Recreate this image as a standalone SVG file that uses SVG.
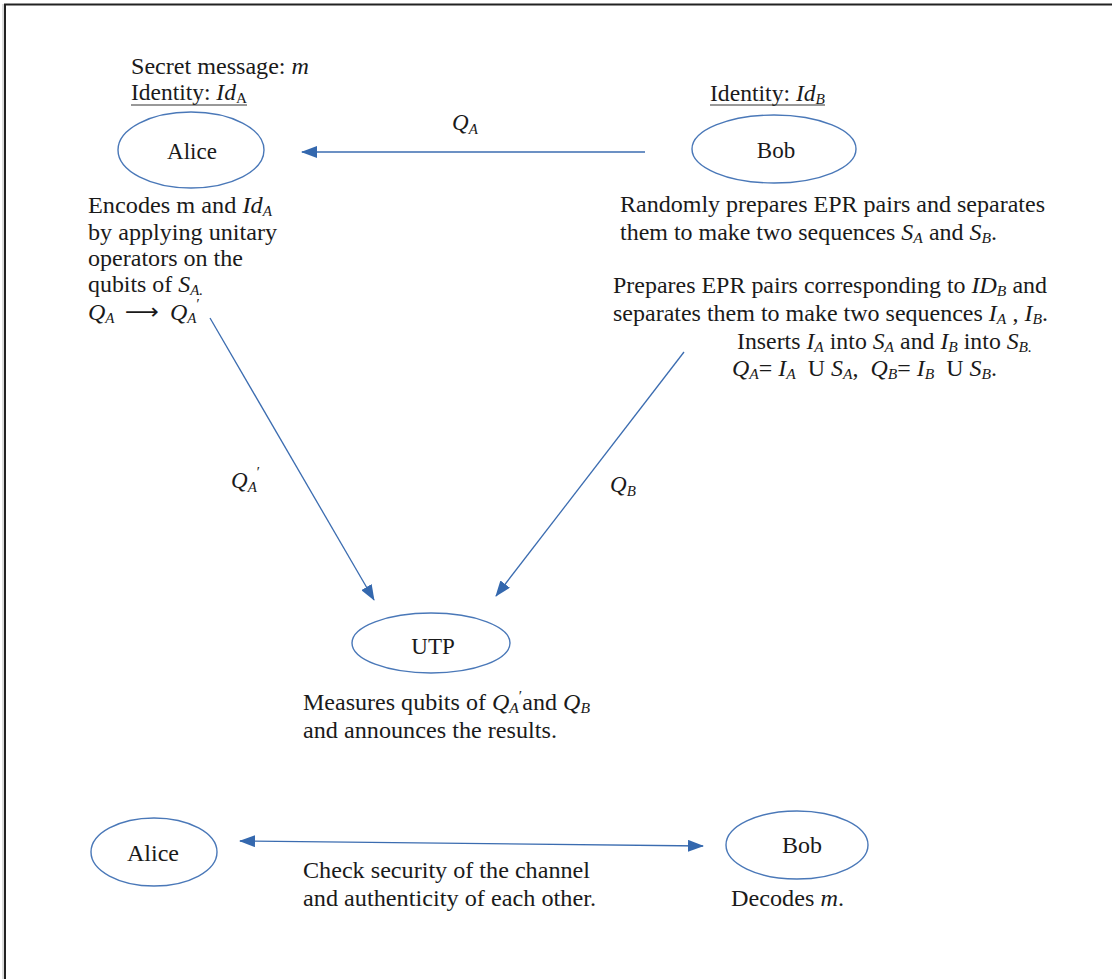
<svg xmlns="http://www.w3.org/2000/svg" width="1112" height="979" viewBox="0 0 1112 979">
<style>
  text { font-family: "Liberation Serif", "Times New Roman", serif; font-size: 23px; fill: #1a1a1a; }
  .l { font-size: 24px; }
  .i { font-style: italic; }
  .s { font-size: 15px; }
  .node { fill: none; stroke: #4a78b8; stroke-width: 1.4; }
  .edge { stroke: #3b6cb0; stroke-width: 1.3; fill: none; }
  .big { font-size: 23px; }
</style>
<defs>
  <marker id="ah" viewBox="0 0 16 12" refX="15" refY="6" markerWidth="16" markerHeight="12" markerUnits="userSpaceOnUse" orient="auto-start-reverse">
    <path d="M0,0 L16,6 L0,12 Z" fill="#3468ae"/>
  </marker>
</defs>
<rect width="1112" height="979" fill="#ffffff"/>
<g id="frame">
  <line x1="3" y1="4" x2="3" y2="979" stroke="#bbbbbb" stroke-width="1"/>
  <line x1="5" y1="4" x2="5" y2="979" stroke="#222" stroke-width="2"/>
  <line x1="4" y1="4.5" x2="1112" y2="4.5" stroke="#222" stroke-width="2"/>
</g>

<g id="connectors">
  <line class="edge" x1="645" y1="152" x2="302" y2="152" marker-end="url(#ah)"/>
  <line class="edge" x1="210" y1="318" x2="374" y2="600" marker-end="url(#ah)"/>
  <line class="edge" x1="684" y1="352" x2="496" y2="596" marker-end="url(#ah)"/>
  <line class="edge" x1="240" y1="841" x2="703" y2="846" marker-start="url(#ah)" marker-end="url(#ah)"/>
  <text x="452" y="130" class="i big">Q<tspan class="s" dy="4">A</tspan></text>
  <text x="231" y="488" class="i big">Q<tspan class="s" dy="4">A</tspan><tspan class="s" dx="-1" dy="-15">′</tspan></text>
  <text x="610" y="492" class="i big">Q<tspan class="s" dy="4">B</tspan></text>
</g>

<g id="alice-top">
  <ellipse class="node" cx="191" cy="150" rx="73" ry="38"/>
  <text x="192" y="159" text-anchor="middle" class="big">Alice</text>
  <text x="131" y="74" textLength="178" lengthAdjust="spacingAndGlyphs">Secret message: <tspan class="i">m</tspan></text>
  <text x="131" y="100" textLength="116" lengthAdjust="spacingAndGlyphs">Identity: <tspan class="i">Id</tspan><tspan class="s" dy="3">A</tspan></text>
  <line x1="131" y1="105" x2="247" y2="105" stroke="#333" stroke-width="1"/>
  <text x="88" y="213" class="l" textLength="184" lengthAdjust="spacingAndGlyphs">Encodes m and <tspan class="i">Id</tspan><tspan class="i s" dy="3">A</tspan></text>
  <text x="88" y="240" class="l" textLength="189" lengthAdjust="spacingAndGlyphs">by applying unitary</text>
  <text x="88" y="266" class="l" textLength="155" lengthAdjust="spacingAndGlyphs">operators on the</text>
  <text x="88" y="292" class="l" textLength="115" lengthAdjust="spacingAndGlyphs">qubits of <tspan class="i">S</tspan><tspan class="i s" dy="3">A.</tspan></text>
  <text x="88" y="320" class="i l">Q<tspan class="s" dy="3">A</tspan></text>
  <text x="125" y="319" style="font-family:'DejaVu Sans',sans-serif;font-size:22px" textLength="34" lengthAdjust="spacingAndGlyphs">⟶</text>
  <text x="170" y="320" class="i l">Q<tspan class="s" dy="3">A</tspan><tspan class="s" dx="-1" dy="-14">′</tspan></text>
</g>

<g id="bob-top">
  <ellipse class="node" cx="774" cy="149" rx="82" ry="34"/>
  <text x="776" y="158" text-anchor="middle" class="big">Bob</text>
  <text x="710" y="101" textLength="115" lengthAdjust="spacingAndGlyphs">Identity: <tspan class="i">Id</tspan><tspan class="i s" dy="3">B</tspan></text>
  <line x1="710" y1="105" x2="825" y2="105" stroke="#333" stroke-width="1"/>
  <text x="620" y="212" textLength="425" lengthAdjust="spacingAndGlyphs">Randomly prepares EPR pairs and separates</text>
  <text x="620" y="240" textLength="377" lengthAdjust="spacingAndGlyphs">them to make two sequences <tspan class="i">S</tspan><tspan class="i s" dy="3">A</tspan><tspan dy="-3"> and </tspan><tspan class="i">S</tspan><tspan class="i s" dy="3">B</tspan><tspan dy="-3">.</tspan></text>
  <text x="613" y="293" textLength="434" lengthAdjust="spacingAndGlyphs">Prepares EPR pairs corresponding to <tspan class="i">ID</tspan><tspan class="i s" dy="3">B</tspan><tspan dy="-3"> and</tspan></text>
  <text x="613" y="321" textLength="435" lengthAdjust="spacingAndGlyphs">separates them to make two sequences <tspan class="i">I</tspan><tspan class="i s" dy="3">A</tspan><tspan dy="-3"> , </tspan><tspan class="i">I</tspan><tspan class="i s" dy="3">B</tspan><tspan dy="-3">.</tspan></text>
  <text x="737" y="349" textLength="295" lengthAdjust="spacingAndGlyphs">Inserts <tspan class="i">I</tspan><tspan class="i s" dy="3">A</tspan><tspan dy="-3"> into </tspan><tspan class="i">S</tspan><tspan class="i s" dy="3">A</tspan><tspan dy="-3"> and </tspan><tspan class="i">I</tspan><tspan class="i s" dy="3">B</tspan><tspan dy="-3"> into </tspan><tspan class="i">S</tspan><tspan class="i s" dy="3">B.</tspan></text>
  <text x="732" y="376" textLength="265" lengthAdjust="spacingAndGlyphs" xml:space="preserve"><tspan class="i">Q</tspan><tspan class="i s" dy="3">A</tspan><tspan dy="-3">= </tspan><tspan class="i">I</tspan><tspan class="i s" dy="3">A</tspan><tspan dy="-3">  U </tspan><tspan class="i">S</tspan><tspan class="i s" dy="3">A</tspan><tspan dy="-3">,  </tspan><tspan class="i">Q</tspan><tspan class="i s" dy="3">B</tspan><tspan dy="-3">= </tspan><tspan class="i">I</tspan><tspan class="i s" dy="3">B</tspan><tspan dy="-3">  U </tspan><tspan class="i">S</tspan><tspan class="i s" dy="3">B</tspan><tspan dy="-3">.</tspan></text>
</g>

<g id="utp">
  <ellipse class="node" cx="431" cy="643" rx="79" ry="30"/>
  <text x="433" y="654" text-anchor="middle" class="big">UTP</text>
  <text x="303" y="710" textLength="287" lengthAdjust="spacingAndGlyphs">Measures qubits of <tspan class="i">Q</tspan><tspan class="i s" dy="3">A</tspan><tspan class="i s" dx="-1" dy="-12">′</tspan><tspan dx="1" dy="9">and </tspan><tspan class="i">Q</tspan><tspan class="i s" dy="3">B</tspan></text>
  <text x="303" y="738" textLength="254" lengthAdjust="spacingAndGlyphs">and announces the results.</text>
</g>

<g id="alice-bottom">
  <ellipse class="node" cx="154" cy="852" rx="63" ry="34"/>
  <text x="127" y="861" textLength="52" lengthAdjust="spacingAndGlyphs" class="big">Alice</text>
</g>

<g id="bob-bottom">
  <ellipse class="node" cx="797" cy="845" rx="71" ry="34"/>
  <text x="782" y="853" textLength="40" lengthAdjust="spacingAndGlyphs" class="big">Bob</text>
  <text x="731" y="906" textLength="113" lengthAdjust="spacingAndGlyphs" class="big">Decodes <tspan class="i">m</tspan>.</text>
</g>

<g id="channel-label">
  <text x="303" y="878" textLength="287" lengthAdjust="spacingAndGlyphs" class="big">Check security of the channel</text>
  <text x="303" y="906" textLength="293" lengthAdjust="spacingAndGlyphs" class="big">and authenticity of each other.</text>
</g>
</svg>
